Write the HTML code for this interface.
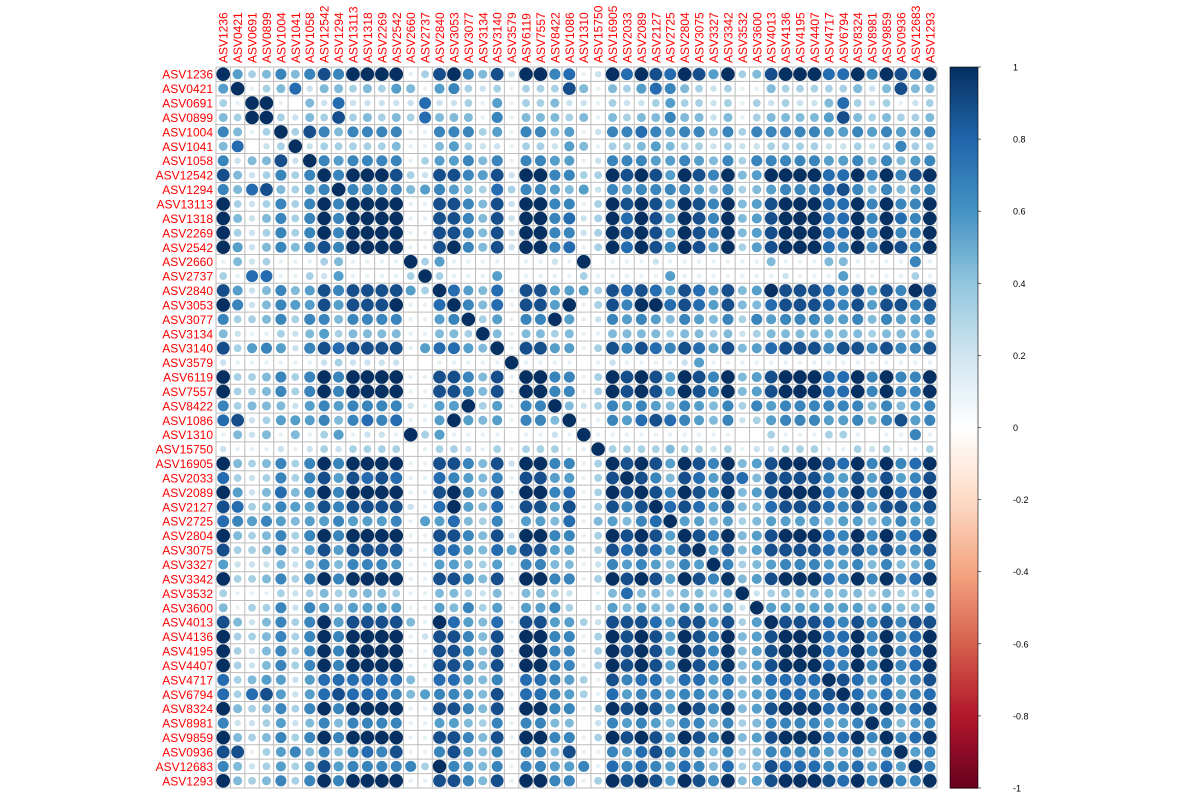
<!DOCTYPE html>
<html><head><meta charset="utf-8"><style>
body{margin:0;background:#fff;}
svg{display:block;font-family:"Liberation Sans",sans-serif;}
</style></head><body>
<svg id="chart" width="1200" height="800" viewBox="0 0 1200 800"></svg>
<script>
const labels=["ASV1236","ASV0421","ASV0691","ASV0899","ASV1004","ASV1041","ASV1058","ASV12542","ASV1294","ASV13113","ASV1318","ASV2269","ASV2542","ASV2660","ASV2737","ASV2840","ASV3053","ASV3077","ASV3134","ASV3140","ASV3579","ASV6119","ASV7557","ASV8422","ASV1086","ASV1310","ASV15750","ASV16905","ASV2033","ASV2089","ASV2127","ASV2725","ASV2804","ASV3075","ASV3327","ASV3342","ASV3532","ASV3600","ASV4013","ASV4136","ASV4195","ASV4407","ASV4717","ASV6794","ASV8324","ASV8981","ASV9859","ASV0936","ASV12683","ASV1293"];
// lower-triangle correlation levels (digit d => r = d/9)
const lowerRows=[
"9",
"5 9",
"3 1 9",
"4 3 9 9",
"6 4 1 3 9",
"4 7 0 2 3 9",
"6 2 4 4 8 2 9",
"8 4 2 3 6 3 6 9",
"6 4 7 8 4 3 5 6 9",
"9 3 2 3 6 3 6 9 6 9",
"9 4 2 4 6 3 6 9 6 9 9",
"9 3 2 3 6 3 6 9 6 9 9 9",
"9 5 2 4 6 4 6 8 6 9 9 9 9",
"1 4 2 3 1 1 1 3 4 1 1 1 1 9",
"3 1 7 7 1 1 3 2 5 1 1 1 1 3 9",
"8 5 2 4 6 4 5 8 6 8 8 8 8 5 3 9",
"9 6 2 4 6 5 5 8 5 8 8 8 9 1 1 7 9",
"6 3 3 4 6 3 6 6 4 6 6 6 6 1 1 5 6 9",
"4 2 1 1 3 2 4 5 3 4 4 4 4 1 1 4 4 3 9",
"8 3 5 6 5 2 6 8 7 8 8 8 8 1 5 7 7 5 4 9",
"2 1 1 1 1 1 1 2 3 2 2 2 2 0 0 1 1 1 1 1 9",
"9 3 3 4 6 3 6 9 6 9 9 9 9 1 1 8 8 6 4 8 1 9",
"9 3 3 4 6 3 6 9 6 9 9 9 9 1 1 8 8 6 4 8 1 9 9",
"6 3 4 4 4 2 5 6 5 6 6 6 6 2 1 5 5 9 3 5 1 6 6 9",
"7 8 2 3 5 5 5 6 4 6 7 6 7 1 1 5 9 5 4 5 1 6 6 4 9",
"1 4 2 4 1 4 1 3 5 1 2 2 1 9 3 5 1 1 1 1 0 1 1 2 1 9",
"2 1 1 1 2 1 2 3 2 3 3 3 3 0 1 3 3 2 1 3 1 3 3 3 1 1 9",
"9 4 3 4 6 3 6 9 6 9 9 9 9 1 1 8 8 6 4 8 2 9 9 6 6 1 3 9",
"7 3 2 3 6 3 6 8 5 8 7 8 7 1 1 7 6 5 4 6 1 8 8 5 5 1 3 8 9",
"9 5 2 4 7 4 6 9 6 9 9 9 9 1 1 8 9 6 4 8 1 9 9 6 7 1 3 9 8 9",
"8 7 3 4 6 5 5 8 6 8 8 8 8 2 1 7 9 5 4 7 1 8 8 5 8 1 3 8 6 8 9",
"7 6 5 6 5 4 5 5 6 5 5 5 6 1 5 5 7 4 3 6 1 5 5 4 7 1 4 5 4 6 7 9",
"9 4 3 4 6 3 6 9 6 9 9 9 9 1 1 8 8 6 4 8 2 9 9 6 6 1 3 9 8 9 8 5 9",
"8 3 3 4 6 3 5 8 5 8 8 8 8 1 1 7 7 5 4 7 5 8 8 5 5 1 3 8 7 8 7 5 8 9",
"5 2 2 2 4 2 4 6 4 6 6 6 5 1 1 5 5 4 3 5 1 6 6 4 4 1 2 6 5 6 5 4 6 5 9",
"9 3 3 4 6 3 6 9 6 9 9 9 9 1 1 8 8 6 4 8 1 9 9 6 6 1 3 9 8 9 8 5 9 8 6 9",
"3 1 1 1 3 2 3 4 3 4 4 4 3 1 1 4 4 3 2 4 1 4 4 3 2 0 1 4 7 4 4 3 4 4 3 4 9",
"4 1 3 3 6 2 6 5 4 5 5 5 5 1 1 5 4 6 3 5 1 5 5 6 3 0 2 5 4 5 4 4 5 5 4 5 2 9",
"8 4 2 4 6 3 6 9 5 8 8 8 8 4 1 9 7 5 4 7 1 8 8 5 5 3 2 8 8 8 7 5 8 8 5 8 3 5 9",
"9 3 3 4 6 3 6 9 6 9 9 9 9 1 2 8 8 6 4 8 1 9 9 6 6 1 3 9 8 9 8 5 9 8 6 9 4 5 8 9",
"9 3 2 4 6 3 6 9 6 9 9 9 9 1 1 8 8 6 4 8 1 9 9 6 6 1 3 9 8 9 8 5 9 8 6 9 4 5 8 9 9",
"9 3 2 4 6 3 6 9 6 9 9 9 9 1 1 8 8 6 4 8 1 9 9 6 6 1 3 9 8 9 8 5 9 8 6 9 4 5 8 9 9 9",
"7 3 4 5 5 2 5 7 7 7 7 7 7 4 1 7 7 5 4 6 1 7 7 6 5 3 1 8 6 7 7 4 7 7 5 7 4 5 7 7 7 7 9",
"7 3 7 8 5 2 5 7 8 7 7 7 6 4 5 6 6 5 4 8 1 7 7 6 5 3 1 7 5 6 6 5 6 6 5 6 4 5 6 7 7 6 8 9",
"9 4 3 4 6 3 6 9 6 9 9 9 9 1 1 8 8 6 4 8 1 9 9 6 6 1 3 9 8 9 8 5 9 8 6 9 4 5 8 9 9 9 7 7 9",
"6 2 2 3 5 2 4 6 4 6 6 6 6 1 1 5 5 4 3 6 1 6 6 4 4 0 2 6 5 6 5 4 6 6 4 6 3 4 6 6 6 6 5 5 6 9",
"9 4 3 4 6 3 6 9 6 9 9 9 9 1 1 8 8 6 4 8 1 9 9 6 6 1 3 9 8 9 8 5 9 8 6 9 4 5 8 9 9 9 7 7 9 6 9",
"8 8 1 3 5 6 4 6 4 6 7 6 8 1 1 6 8 5 4 6 1 6 6 4 8 1 1 6 5 7 8 6 6 6 4 6 3 4 6 6 6 6 5 5 6 4 6 9",
"6 4 2 3 5 3 5 8 5 6 6 6 6 6 3 9 6 5 4 6 1 6 6 5 5 6 1 7 6 7 6 5 7 6 4 7 3 4 8 7 7 7 6 6 7 5 7 5 9",
"9 4 3 4 6 3 6 9 6 9 9 9 9 1 1 8 8 6 4 8 1 9 9 6 6 1 3 9 8 9 8 5 9 8 6 9 4 5 8 9 9 9 8 7 9 6 9 6 6 9"
];
const N=labels.length;
const M=[];for(let i=0;i<N;i++){M.push(new Array(N).fill(0));}
for(let i=0;i<N;i++){const s=(lowerRows[i]||"").trim().split(/\s+/).map(Number);for(let j=0;j<=i;j++){const d=j<s.length?s[j]:0;const v=(j===i)?1:d/9;M[i][j]=v;M[j][i]=v;}}
for(let i=0;i<N;i++)M[i][i]=1;
const barTicks=[1,0.8,0.6,0.4,0.2,0,-0.2,-0.4,-0.6,-0.8,-1];

const svg=document.getElementById('chart');const NS="http://www.w3.org/2000/svg";
function el(t,a,p){const e=document.createElementNS(NS,t);for(const k in a)e.setAttribute(k,a[k]);(p||svg).appendChild(e);return e;}
const L=216,T=67,W=721,cs=W/N;
const xs=j=>L+j*cs, ys=i=>T+i*cs;
const stops=[[-1,"#67001F"],[-0.8,"#B2182B"],[-0.6,"#D6604D"],[-0.4,"#F4A582"],[-0.2,"#FDDBC7"],[0,"#FFFFFF"],[0.2,"#D1E5F0"],[0.4,"#92C5DE"],[0.6,"#4393C3"],[0.8,"#2166AC"],[1,"#053061"]];
function hex(h){return [1,3,5].map(k=>parseInt(h.substr(k,2),16));}
function col(v){for(let k=0;k<stops.length-1;k++){if(v<=stops[k+1][0]){const t=(v-stops[k][0])/(stops[k+1][0]-stops[k][0]);const a=hex(stops[k][1]),b=hex(stops[k+1][1]);return "rgb("+a.map((x,i)=>Math.round(x+(b[i]-x)*t)).join(",")+")";}}return stops[stops.length-1][1];}
const g=el('g',{});


for(let k=0;k<=N;k++){el('line',{x1:xs(k),x2:xs(k),y1:T,y2:T+W,stroke:"#bdbdbd","stroke-width":1},g);el('line',{x1:L,x2:L+W,y1:ys(k),y2:ys(k),stroke:"#bdbdbd","stroke-width":1},g);}
const cg=el('g',{});


for(let i=0;i<N;i++)for(let j=0;j<N;j++){const v=M[i][j];if(Math.abs(v)<0.001)continue;const c=el('circle',{cx:xs(j)+cs/2,cy:ys(i)+cs/2,r:Math.sqrt(Math.abs(v))*cs*0.47,fill:col(v)},cg);

}
for(let i=0;i<N;i++){const t=el('text',{x:213,y:ys(i)+cs/2+4.5,"text-anchor":"end","font-size":12,fill:"#ff0000"});t.textContent=labels[i];


const c=el('text',{transform:"translate("+(xs(i)+cs/2+4.5)+",63) rotate(-90)","font-size":12,fill:"#ff0000"});c.textContent=labels[i];

}
const bx=950,bw=28,bt=67,bb=788;const by=v=>bt+(1-v)/2*(bb-bt);
const cb=el('g',{});


for(let k=0;k<200;k++){const v1=1-k*0.01,v2=v1-0.01;el('rect',{x:bx,y:by(v1),width:bw,height:by(v2)-by(v1)+0.6,fill:col((v1+v2)/2)},cb);}
el('rect',{x:bx,y:bt,width:bw,height:bb-bt,fill:"none",stroke:"#000","stroke-width":0.6},cb);
barTicks.forEach(v=>{el('line',{x1:bx+bw,x2:bx+bw+3,y1:by(v),y2:by(v),stroke:"#000","stroke-width":0.6},cb);const t=el('text',{x:1013,y:by(v)+3.5,"text-anchor":"start","font-size":9,fill:"#000"},cb);t.textContent=String(v);

});
</script>
</body></html>
